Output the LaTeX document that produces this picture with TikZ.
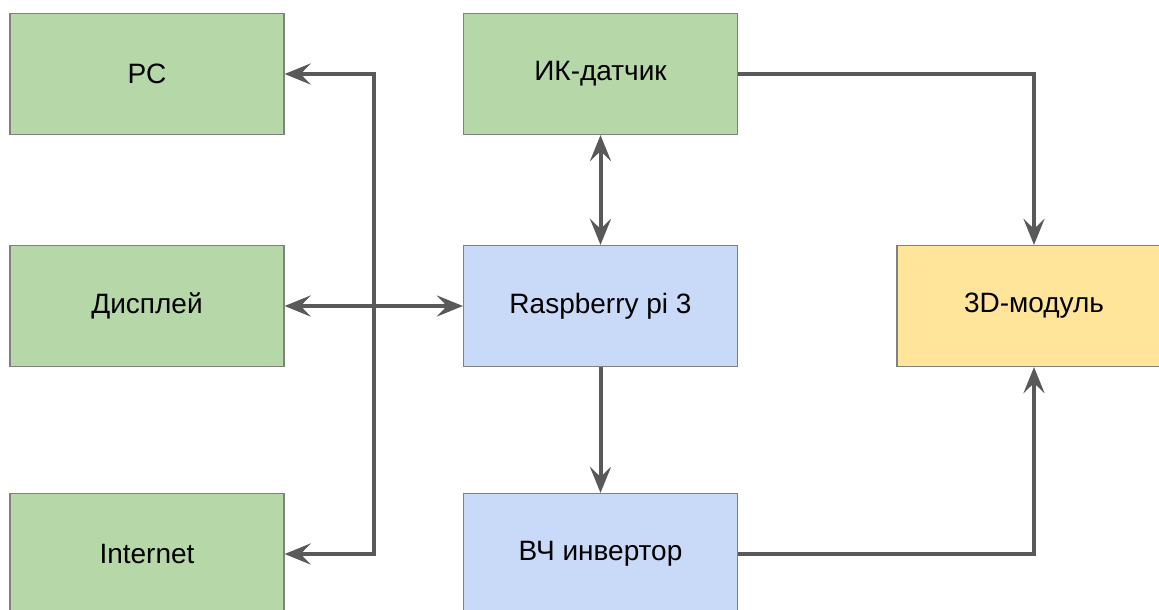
\documentclass[tikz,border=0pt]{standalone}
\usepackage{fontspec}
\setmainfont{Liberation Sans}
\usepackage{tikz}
\usetikzlibrary{arrows.meta, positioning}
\usepackage{xcolor}
\definecolor{boxgreen}{HTML}{B6D7A8}
\definecolor{boxblue}{HTML}{C9DAF8}
\definecolor{boxyellow}{HTML}{FFE599}
\definecolor{edgegray}{HTML}{808080}
\definecolor{linkgray}{HTML}{595959}

\begin{document}
\begin{tikzpicture}[x=0.5pt, y=-0.5pt,
    block/.style={draw=edgegray, line width=0.6pt, minimum width=137pt,
                  minimum height=60.5pt, inner sep=0pt,
                  font=\fontsize{14}{16}\selectfont},
    link/.style={draw=linkgray, line width=2pt,
                 arrows={-Stealth[length=13pt, width=10.5pt, inset=5pt]}},
    twoway/.style={link, arrows={Stealth[length=13pt, width=10.5pt, inset=5pt]-Stealth[length=13pt, width=10.5pt, inset=5pt]}}]
      \useasboundingbox (0,0) rectangle (1159,609);

      % left column
      \node[block, fill=boxgreen] (pc)   at (147, 74)  {PC};
      \node[block, fill=boxgreen] (disp) at (147, 306) {Дисплей};
      \node[block, fill=boxgreen] (inet) at (147, 554) {Internet};

      % middle column
      \node[block, fill=boxgreen] (ik)  at (600.5, 74)  {ИК-датчик};
      \node[block, fill=boxblue]  (rpi) at (600.5, 306) {Raspberry pi 3};
      \node[block, fill=boxblue]  (vch) at (600.5, 554) {ВЧ инвертор};

      % right
      \node[block, fill=boxyellow] (mod) at (1034, 306) {3D-модуль};

      \coordinate (busTop) at (374, 74);
      \coordinate (busBot) at (374, 554);

      \draw[twoway] (pc.east) -- (busTop) -- (busBot) -- (inet.east);
      \draw[twoway] (disp.east) -- (rpi.west);
      \draw[twoway] (ik.south) -- (rpi.north);
      \draw[link] (rpi.south) -- (vch.north);
      \draw[link] (ik.east) -| (mod.north);
      \draw[link] (vch.east) -| (mod.south);
    \end{tikzpicture}
\end{document}
